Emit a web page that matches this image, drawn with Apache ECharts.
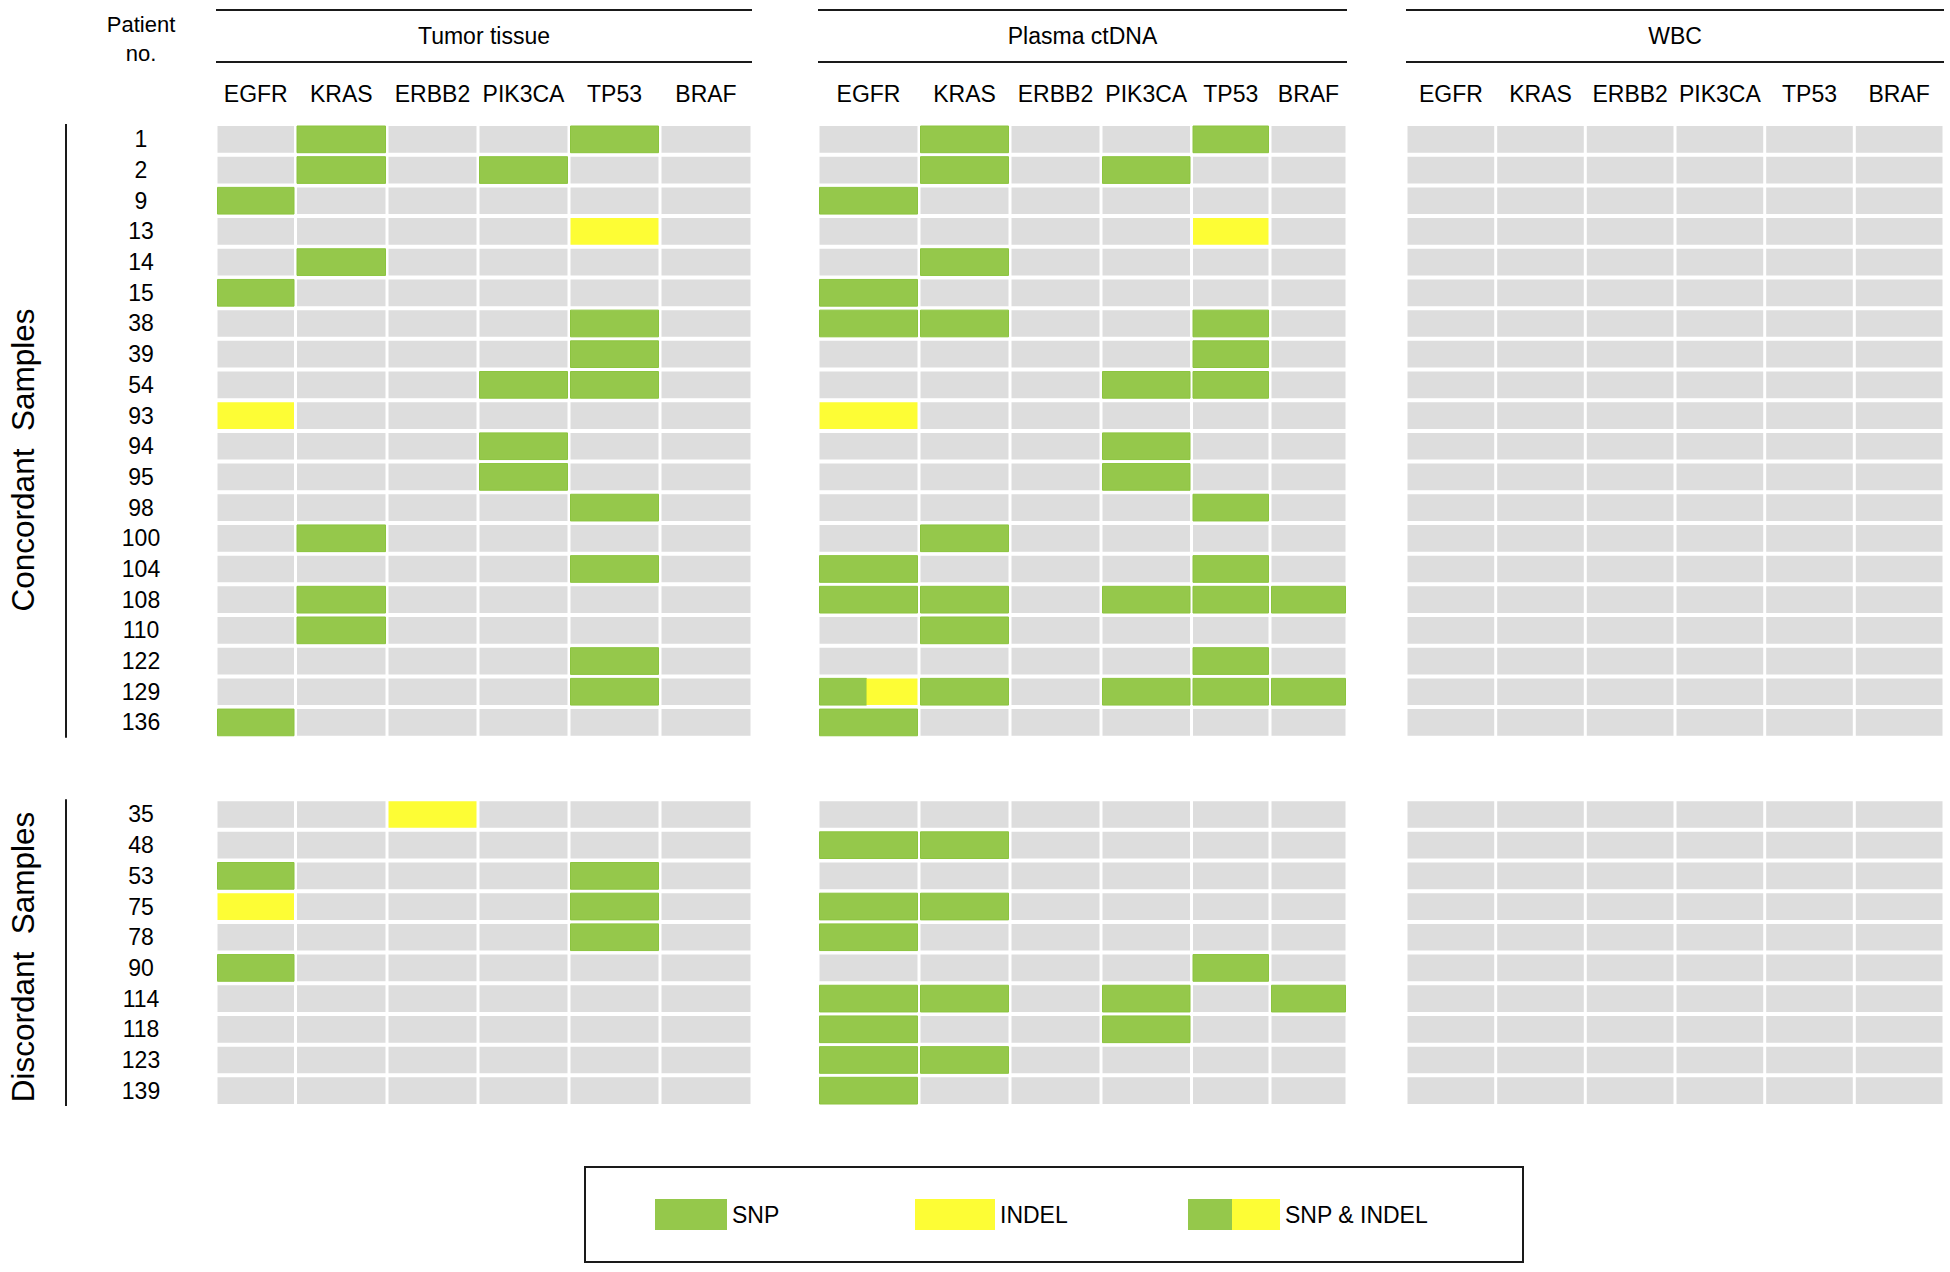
<!DOCTYPE html>
<html>
<head>
<meta charset="utf-8">
<script src="https://cdn.jsdelivr.net/npm/echarts@6/dist/echarts.min.js"></script>
<style>
html,body{margin:0;padding:0;background:#ffffff;}
#chart{width:1950px;height:1272px;}
</style>
</head>
<body>
<div id="chart"></div>
<script>
// ---------------- DATA ----------------
const genes = ['EGFR', 'KRAS', 'ERBB2', 'PIK3CA', 'TP53', 'BRAF'];
const sections = ['Tumor tissue', 'Plasma ctDNA', 'WBC'];
const groupNames = ['Concordant  Samples', 'Discordant  Samples'];
const concordantPatients = ['1','2','9','13','14','15','38','39','54','93','94','95','98','100','104','108','110','122','129','136'];
const discordantPatients = ['35','48','53','75','78','90','114','118','123','139'];
const mutationTypes = ['SNP', 'INDEL', 'SNP & INDEL']; // codes 1, 2, 3 (0 = none)

// rows: patients, columns: EGFR KRAS ERBB2 PIK3CA TP53 BRAF
const tumorConcordant = [
  [0,1,0,0,1,0],
  [0,1,0,1,0,0],
  [1,0,0,0,0,0],
  [0,0,0,0,2,0],
  [0,1,0,0,0,0],
  [1,0,0,0,0,0],
  [0,0,0,0,1,0],
  [0,0,0,0,1,0],
  [0,0,0,1,1,0],
  [2,0,0,0,0,0],
  [0,0,0,1,0,0],
  [0,0,0,1,0,0],
  [0,0,0,0,1,0],
  [0,1,0,0,0,0],
  [0,0,0,0,1,0],
  [0,1,0,0,0,0],
  [0,1,0,0,0,0],
  [0,0,0,0,1,0],
  [0,0,0,0,1,0],
  [1,0,0,0,0,0]
];
const tumorDiscordant = [
  [0,0,2,0,0,0],
  [0,0,0,0,0,0],
  [1,0,0,0,1,0],
  [2,0,0,0,1,0],
  [0,0,0,0,1,0],
  [1,0,0,0,0,0],
  [0,0,0,0,0,0],
  [0,0,0,0,0,0],
  [0,0,0,0,0,0],
  [0,0,0,0,0,0]
];
const plasmaConcordant = [
  [0,1,0,0,1,0],
  [0,1,0,1,0,0],
  [1,0,0,0,0,0],
  [0,0,0,0,2,0],
  [0,1,0,0,0,0],
  [1,0,0,0,0,0],
  [1,1,0,0,1,0],
  [0,0,0,0,1,0],
  [0,0,0,1,1,0],
  [2,0,0,0,0,0],
  [0,0,0,1,0,0],
  [0,0,0,1,0,0],
  [0,0,0,0,1,0],
  [0,1,0,0,0,0],
  [1,0,0,0,1,0],
  [1,1,0,1,1,1],
  [0,1,0,0,0,0],
  [0,0,0,0,1,0],
  [3,1,0,1,1,1],
  [1,0,0,0,0,0]
];
const plasmaDiscordant = [
  [0,0,0,0,0,0],
  [1,1,0,0,0,0],
  [0,0,0,0,0,0],
  [1,1,0,0,0,0],
  [1,0,0,0,0,0],
  [0,0,0,0,1,0],
  [1,1,0,1,0,1],
  [1,0,0,1,0,0],
  [1,1,0,0,0,0],
  [1,0,0,0,0,0]
];
const wbcConcordant = [
  [0,0,0,0,0,0],
  [0,0,0,0,0,0],
  [0,0,0,0,0,0],
  [0,0,0,0,0,0],
  [0,0,0,0,0,0],
  [0,0,0,0,0,0],
  [0,0,0,0,0,0],
  [0,0,0,0,0,0],
  [0,0,0,0,0,0],
  [0,0,0,0,0,0],
  [0,0,0,0,0,0],
  [0,0,0,0,0,0],
  [0,0,0,0,0,0],
  [0,0,0,0,0,0],
  [0,0,0,0,0,0],
  [0,0,0,0,0,0],
  [0,0,0,0,0,0],
  [0,0,0,0,0,0],
  [0,0,0,0,0,0],
  [0,0,0,0,0,0]
];
const wbcDiscordant = [
  [0,0,0,0,0,0],
  [0,0,0,0,0,0],
  [0,0,0,0,0,0],
  [0,0,0,0,0,0],
  [0,0,0,0,0,0],
  [0,0,0,0,0,0],
  [0,0,0,0,0,0],
  [0,0,0,0,0,0],
  [0,0,0,0,0,0],
  [0,0,0,0,0,0]
];

// ---------------- STYLE / LAYOUT ----------------
const FONT = '"Liberation Sans", Arial, Helvetica, sans-serif';
const GRAY = '#dddddd', GREEN = '#95c84b', GREEN_EDGE = '#8cc43f', YELLOW = '#fdfd35';
const GAP_ROWS = 2;
const GRID_TOP = 124, GRID_H = 982;
// column boundaries (pixels) of each section's six gene columns
const columnEdges = [
  [216, 295.5, 387, 478, 569, 660, 752],
  [818, 919, 1010, 1101, 1191.5, 1270, 1347],
  [1406, 1495.7, 1585.3, 1675, 1764.7, 1854.3, 1944]
];
const groupLabelY = [460, 957];

const rowCats = concordantPatients.concat([' ', '  '], discordantPatients);
const sectionData = [
  [tumorConcordant, tumorDiscordant],
  [plasmaConcordant, plasmaDiscordant],
  [wbcConcordant, wbcDiscordant]
];

function buildColumn(conc, disc, j) {
  const out = [];
  conc.forEach((row, i) => out.push([0, i, row[j]]));
  const off = conc.length + GAP_ROWS;
  disc.forEach((row, i) => out.push([0, off + i, row[j]]));
  return out;
}

function renderCell(params, api) {
  const col = api.value(0), row = api.value(1), code = api.value(2);
  const c = api.coord([col, row]);
  const s = api.size([1, 1]);
  const w = s[0] - 3, h = s[1] - 4;
  const x = c[0] - w / 2, y = c[1] - h / 2;
  if (code === 3) {
    const wl = Math.round(w * 0.48);
    return {
      type: 'group',
      children: [
        {type: 'rect', shape: {x: x, y: y, width: wl, height: h}, style: {fill: GREEN, stroke: GREEN_EDGE, lineWidth: 1}},
        {type: 'rect', shape: {x: x + wl, y: y, width: w - wl, height: h}, style: {fill: YELLOW}}
      ]
    };
  }
  const fill = code === 1 ? GREEN : code === 2 ? YELLOW : GRAY;
  return {
    type: 'rect',
    shape: {x: x, y: y, width: w, height: h},
    style: code === 1 ? {fill: fill, stroke: GREEN_EDGE, lineWidth: 1} : {fill: fill}
  };
}

const grids = [], xAxes = [], yAxes = [], series = [];
sections.forEach((secName, s) => {
  const edges = columnEdges[s];
  genes.forEach((gene, j) => {
    const gi = s * genes.length + j;
    grids.push({left: edges[j], width: edges[j + 1] - edges[j], top: GRID_TOP, height: GRID_H});
    xAxes.push({
      type: 'category', gridIndex: gi, data: [gene], position: 'top',
      axisLine: {show: false}, axisTick: {show: false}, splitLine: {show: false},
      axisLabel: {interval: 0, margin: 30, verticalAlign: 'middle', fontSize: 23, fontFamily: FONT, color: '#000'}
    });
    yAxes.push({
      type: 'category', gridIndex: gi, data: rowCats, inverse: true,
      axisLine: {show: false}, axisTick: {show: false}, splitLine: {show: false},
      axisLabel: {show: gi === 0, interval: 0, align: 'center', margin: 75, fontSize: 23, fontFamily: FONT, color: '#000'}
    });
    series.push({
      type: 'custom', name: secName + ' ' + gene, xAxisIndex: gi, yAxisIndex: gi,
      renderItem: renderCell, data: buildColumn(sectionData[s][0], sectionData[s][1], j),
      silent: true, encode: {x: 0, y: 1}
    });
  });
});

const legendColors = [
  GREEN,
  YELLOW,
  new echarts.graphic.LinearGradient(0, 0, 1, 0, [
    {offset: 0, color: GREEN}, {offset: 0.48, color: GREEN},
    {offset: 0.48, color: YELLOW}, {offset: 1, color: YELLOW}
  ])
];
mutationTypes.forEach((name, k) => {
  series.push({type: 'custom', name: name, xAxisIndex: 0, yAxisIndex: 0, data: [], renderItem: () => null, itemStyle: {color: legendColors[k]}});
});

const legendPos = [{left: 655, w: 72}, {left: 915, w: 80}, {left: 1188, w: 92}];
const legends = mutationTypes.map((name, k) => ({
  data: [{name: name, icon: 'rect', itemStyle: {color: legendColors[k], borderWidth: 0}}],
  left: legendPos[k].left, top: 1199, padding: 0,
  itemWidth: legendPos[k].w, itemHeight: 31, selectedMode: false,
  textStyle: {fontSize: 23, fontFamily: FONT, color: '#000'}
}));

const graphics = [];
columnEdges.forEach((edges, s) => {
  const x0 = edges[0], x1 = edges[edges.length - 1];
  [10, 62].forEach(yy => graphics.push({
    type: 'line', shape: {x1: x0, y1: yy, x2: x1, y2: yy},
    style: {stroke: '#1a1a1a', lineWidth: 2}, silent: true
  }));
  graphics.push({
    type: 'text', x: (x0 + x1) / 2, y: 36,
    style: {text: sections[s], fill: '#000', font: '23px ' + FONT, textAlign: 'center', textVerticalAlign: 'middle'}
  });
});
graphics.push({type: 'text', x: 141, y: 24, style: {text: 'Patient', fill: '#000', font: '22px ' + FONT, textAlign: 'center', textVerticalAlign: 'middle'}});
graphics.push({type: 'text', x: 141, y: 53, style: {text: 'no.', fill: '#000', font: '22px ' + FONT, textAlign: 'center', textVerticalAlign: 'middle'}});
// group brackets
const rowH = GRID_H / rowCats.length;
const groupSpans = [
  [GRID_TOP, GRID_TOP + concordantPatients.length * rowH],
  [GRID_TOP + (concordantPatients.length + GAP_ROWS) * rowH, GRID_TOP + GRID_H]
];
groupSpans.forEach((sp, k) => {
  graphics.push({type: 'line', shape: {x1: 66, y1: sp[0], x2: 66, y2: sp[1]}, style: {stroke: '#1a1a1a', lineWidth: 2}, silent: true});
  graphics.push({
    type: 'text', x: 23, y: groupLabelY[k], rotation: Math.PI / 2,
    style: {text: groupNames[k], fill: '#000', font: '31.5px ' + FONT, textAlign: 'center', textVerticalAlign: 'middle'}
  });
});
// legend frame
graphics.push({type: 'rect', shape: {x: 585, y: 1167, width: 938, height: 95}, style: {fill: 'none', stroke: '#1a1a1a', lineWidth: 2}, silent: true});

const chart = echarts.init(document.getElementById('chart'), null, {renderer: 'svg', width: 1950, height: 1272});
chart.setOption({
  backgroundColor: '#ffffff',
  animation: false,
  grid: grids,
  xAxis: xAxes,
  yAxis: yAxes,
  legend: legends,
  series: series,
  graphic: graphics
});
</script>
</body>
</html>
